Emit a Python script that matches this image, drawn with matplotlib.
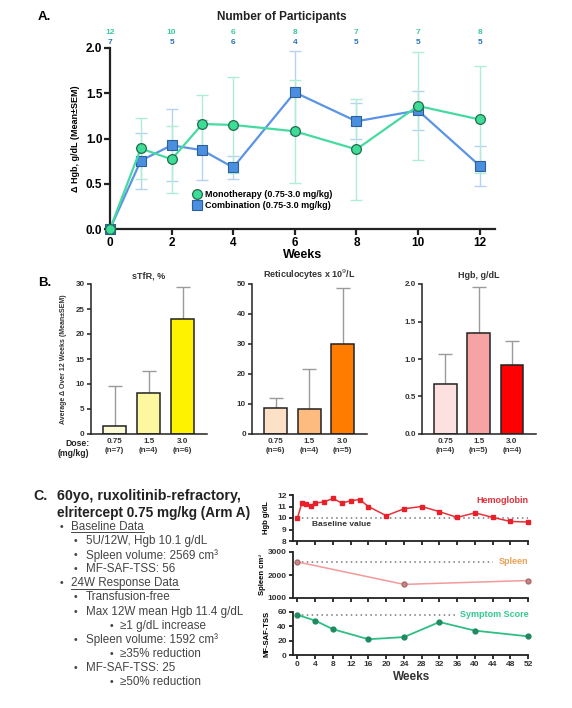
import numpy as np
import matplotlib
matplotlib.use("Agg")
import matplotlib.pyplot as plt
from matplotlib.lines import Line2D
import matplotlib.transforms as mtransforms

plt.rcParams['font.family'] = ['Liberation Sans', 'DejaVu Sans']

# ---- panel A data
weeks_a = [0, 1, 2, 3, 4, 6, 8, 10, 12]
mono_mean = [0, 0.89, 0.77, 1.16, 1.15, 1.08, 0.88, 1.36, 1.21]
mono_sem = [0, 0.34, 0.37, 0.32, 0.53, 0.57, 0.56, 0.60, 0.59]
combo_mean = [0, 0.755, 0.925, 0.87, 0.68, 1.51, 1.19, 1.31, 0.70]
combo_sem = [0, 0.31, 0.40, 0.33, 0.13, 0.46, 0.20, 0.22, 0.22]
n_weeks = [0, 2, 4, 6, 8, 10, 12]
n_mono = [12, 10, 6, 8, 7, 7, 8]
n_combo = [7, 5, 6, 4, 5, 5, 5]

# ---- panel B data
doses = ['0.75', '1.5', '3.0']
stfr_n = [7, 4, 6]
stfr_mean = [1.6, 8.1, 23.0]
stfr_sem = [7.9, 4.4, 6.5]
retic_n = [6, 4, 5]
retic_mean = [8.7, 8.3, 30.0]
retic_sem = [3.3, 13.4, 18.8]
hgb_n = [4, 5, 4]
hgb_mean = [0.66, 1.35, 0.92]
hgb_sem = [0.41, 0.61, 0.32]

# ---- panel C data
hgb_weeks = [0, 1, 2, 3, 4, 6, 8, 10, 12, 14, 16, 20, 24, 28, 32, 36, 40, 44, 48, 52]
hgb_vals = [10.0, 11.3, 11.2, 11.07, 11.3, 11.4, 11.7, 11.3, 11.5, 11.6, 11.0,
            10.2, 10.8, 11.0, 10.55, 10.05, 10.45, 10.05, 9.7, 9.65]
hgb_base = 10.0
spleen_weeks = [0, 24, 52]
spleen_vals = [2569, 1592, 1760]
spleen_base = 2569
tss_weeks = [0, 4, 8, 16, 24, 32, 40, 52]
tss_vals = [56, 48, 36, 22, 25, 46, 34, 26]
tss_base = 56

W, H = 572, 708
fig = plt.figure(figsize=(W / 100, H / 100), dpi=100)


def box(l, t, r, b):
    return [l / W, 1 - b / H, (r - l) / W, (b - t) / H]


def fx(px):
    return px / W


def fy(py):
    return 1 - py / H


def style_axis(ax, lw=1.5, tl=4, fs=8, bold=True):
    for s in ['top', 'right']:
        ax.spines[s].set_visible(False)
    for s in ['left', 'bottom']:
        ax.spines[s].set_linewidth(lw)
        ax.spines[s].set_color('#222222')
    ax.tick_params(direction='out', length=tl, width=lw, labelsize=fs, pad=1.5,
                   color='#222222')
    for lab in ax.get_xticklabels() + ax.get_yticklabels():
        lab.set_fontweight('bold' if bold else 'normal')


# ================= Panel A
axA = fig.add_axes(box(110, 48, 495, 229))
axA.errorbar(weeks_a, combo_mean, yerr=combo_sem, fmt='none', ecolor='#b4d2f2',
             elinewidth=1, capsize=4, capthick=1)
axA.errorbar(weeks_a, mono_mean, yerr=mono_sem, fmt='none', ecolor='#aeeed4',
             elinewidth=1, capsize=4, capthick=1)
axA.plot(weeks_a, combo_mean, '-s', color='#5b93e6', lw=1.6, ms=7, mfc='#4a8fe0',
         mec='#2d5f9a', mew=0.8, clip_on=False, zorder=4,
         label='Combination (0.75-3.0 mg/kg)')
axA.plot(weeks_a, mono_mean, '-o', color='#45dba0', lw=1.6, ms=7, mfc='#3ddc97',
         mec='#236b4c', mew=0.9, clip_on=False, zorder=5,
         label='Monotherapy (0.75-3.0 mg/kg)')
axA.set_xlim(0, 12.5)
axA.set_ylim(0, 2.0)
axA.set_xticks(range(0, 13, 2))
axA.set_yticks([0, 0.5, 1.0, 1.5, 2.0])
axA.set_yticklabels(['0.0', '0.5', '1.0', '1.5', '2.0'])
style_axis(axA, lw=1.6, tl=4, fs=8.5)
axA.set_xlabel('Weeks', fontsize=9, fontweight='bold', labelpad=0)
axA.set_ylabel('Δ Hgb, g/dL (Mean±SEM)', fontsize=6.5, fontweight='bold', labelpad=4)
h, l = axA.get_legend_handles_labels()
axA.legend(h[::-1], l[::-1], loc='upper left', bbox_to_anchor=(0.215, 0.215),
           frameon=False, handlelength=1.0, handletextpad=0.3,
           labelspacing=0.25, borderpad=0, borderaxespad=0,
           prop={'weight': 'bold', 'size': 6.5})
trA = mtransforms.blended_transform_factory(axA.transData, axA.transAxes)
for wk, a, b in zip(n_weeks, n_mono, n_combo):
    axA.text(wk, 1.083, str(a), transform=trA, ha='center', va='center',
             fontsize=6, fontweight='bold', color='#3cc8a0')
    axA.text(wk, 1.028, str(b), transform=trA, ha='center', va='center',
             fontsize=6, fontweight='bold', color='#2a74b8')
fig.text(fx(282), fy(17), 'Number of Participants', ha='center', va='center',
         fontsize=8.5, fontweight='bold', color='#222222')
fig.text(fx(38), fy(17), 'A.', ha='left', va='center', fontsize=9.5, fontweight='bold')

# ================= Panel B
b_panels = [
    (box(91, 284, 207, 434), 'sTfR, %', stfr_mean, stfr_sem, stfr_n,
     ['#fdfbd6', '#fdf8a0', '#fff200'], 30, [0, 5, 10, 15, 20, 25, 30], None),
    (box(252, 284, 367, 434), 'Reticulocytes x 10$^9$/L', retic_mean, retic_sem, retic_n,
     ['#fde1c6', '#fdbb80', '#ff7c00'], 50, [0, 10, 20, 30, 40, 50], None),
    (box(422, 284, 536, 434), 'Hgb, g/dL', hgb_mean, hgb_sem, hgb_n,
     ['#fde1e1', '#f5a3a3', '#ff0000'], 2.0, [0, 0.5, 1.0, 1.5, 2.0],
     ['0.0', '0.5', '1.0', '1.5', '2.0']),
]
xpos = np.arange(3)
for rect, title, mean, sem, ns, cols, ymax, yt, ytl in b_panels:
    ax = fig.add_axes(rect)
    ax.errorbar(xpos, mean, yerr=[[0] * 3, sem], fmt='none', ecolor='#9a9a9a',
                elinewidth=1, capsize=5, capthick=1, zorder=1)
    ax.bar(xpos, mean, width=0.68, color=cols, edgecolor='#222222', linewidth=1.1,
           zorder=2)
    ax.set_xlim(-0.7, 2.72)
    ax.set_ylim(0, ymax)
    ax.set_yticks(yt)
    if ytl:
        ax.set_yticklabels(ytl)
    ax.set_xticks(xpos)
    ax.set_xticklabels([f'{d}\n(n={n})' for d, n in zip(doses, ns)], linespacing=1.3)
    style_axis(ax, lw=1.1, tl=3, fs=5.8)
    ax.tick_params(axis='x', length=0, pad=3)
    for lab in ax.get_xticklabels() + ax.get_yticklabels():
        lab.set_color('#333333')
    ax.set_title(title, fontsize=6.5, fontweight='bold', color='#333333', pad=4)
    if title.startswith('sTfR'):
        ax.set_ylabel('Average Δ Over 12 Weeks (Mean±SEM)', fontsize=5,
                      fontweight='bold', color='#333333', labelpad=6)

fig.text(fx(77), fy(444), 'Dose:', ha='center', va='center', fontsize=6.2,
         fontweight='bold', color='#222222')
fig.text(fx(73), fy(454), '(mg/kg)', ha='center', va='center', fontsize=6.2,
         fontweight='bold', color='#222222')
fig.text(fx(38), fy(283), 'B.', ha='left', va='center', fontsize=9.5, fontweight='bold')

# ================= Panel C text
fig.text(fx(33), fy(496), 'C.', ha='left', va='center', fontsize=10.3, fontweight='bold',
         color='#222222')
fig.text(fx(57), fy(496), '60yo, ruxolitinib-refractory,', ha='left', va='center',
         fontsize=10.3, fontweight='bold', color='#222222')
fig.text(fx(57), fy(513), 'elritercept 0.75 mg/kg (Arm A)', ha='left', va='center',
         fontsize=9.8, fontweight='bold', color='#222222')

bullets = [
    (1, 'Baseline Data', True),
    (2, '5U/12W, Hgb 10.1 g/dL', False),
    (2, 'Spleen volume: 2569 cm³', False),
    (2, 'MF-SAF-TSS: 56', False),
    (1, '24W Response Data', True),
    (2, 'Transfusion-free', False),
    (2, 'Max 12W mean Hgb 11.4 g/dL', False),
    (3, '≥1 g/dL increase', False),
    (2, 'Spleen volume: 1592 cm³', False),
    (3, '≥35% reduction', False),
    (2, 'MF-SAF-TSS: 25', False),
    (3, '≥50% reduction', False),
]
bullet_x = {1: 60, 2: 74, 3: 110}
text_x = {1: 71, 2: 86, 3: 120}
under = []
y0 = 527
for i, (lvl, txt, ul) in enumerate(bullets):
    yy = y0 + i * 14.1
    fig.text(fx(bullet_x[lvl]), fy(yy), '•', ha='left', va='center', fontsize=7.5,
             color='#444444')
    t = fig.text(fx(text_x[lvl]), fy(yy), txt, ha='left', va='center', fontsize=8.4,
                 color='#444444')
    if ul:
        under.append(t)

# ================= Panel C charts
axH = fig.add_axes(box(293, 495, 530, 541))
axS = fig.add_axes(box(293, 552, 530, 598))
axT = fig.add_axes(box(293, 612, 530, 655))

axH.plot(hgb_weeks, hgb_vals, '-s', color='#e8323a', lw=1.1, ms=3, mfc='#e8202a',
         mec='#e8202a', clip_on=False, zorder=3)
axH.hlines(hgb_base, 0, 52, colors='#777777', linestyles=(0, (1, 2.2)), lw=1.1)
axH.set_ylim(8, 12)
axH.set_yticks([8, 9, 10, 11, 12])
axH.text(52, 11.55, 'Hemoglobin', ha='right', va='center', fontsize=6.5,
         fontweight='bold', color='#e0303a')
axH.text(3.2, 9.45, 'Baseline value', ha='left', va='center', fontsize=6,
         fontweight='bold', color='#333333')
axH.set_ylabel('Hgb g/dL', fontsize=5.5, fontweight='bold', labelpad=5)

axS.plot(spleen_weeks, spleen_vals, '-o', color='#f29a9a', lw=1.1, ms=3.5,
         mfc='#c98686', mec='#a86a6a', clip_on=False, zorder=3)
axS.hlines(spleen_base, 0, 44, colors='#777777', linestyles=(0, (1, 2.2)), lw=1.1)
axS.set_ylim(1000, 3000)
axS.set_yticks([1000, 2000, 3000])
axS.text(52, spleen_base, 'Spleen', ha='right', va='center', fontsize=6.5,
         fontweight='bold', color='#e8a256')
axS.set_ylabel('Spleen cm³', fontsize=5.5, fontweight='bold', labelpad=1)

axT.plot(tss_weeks, tss_vals, '-o', color='#2fbf86', lw=1.3, ms=3.5, mfc='#1f8a5f',
         mec='#1f8a5f', clip_on=False, zorder=3)
axT.hlines(tss_base, 0, 36, colors='#777777', linestyles=(0, (1, 2.2)), lw=1.1)
axT.set_ylim(0, 60)
axT.set_yticks([0, 20, 40, 60])
axT.text(52, tss_base, 'Symptom Score', ha='right', va='center', fontsize=6.5,
         fontweight='bold', color='#34c98e')
axT.set_ylabel('MF-SAF-TSS', fontsize=5.5, fontweight='bold', labelpad=5)
axT.set_xlabel('Weeks', fontsize=8.5, fontweight='bold', color='#333333', labelpad=2)

for ax in (axH, axS, axT):
    ax.set_xlim(-1, 52.4)
    ax.set_xticks(range(0, 53, 4))
    ax.spines['bottom'].set_bounds(-1, 52)
    style_axis(ax, lw=1.3, tl=3, fs=6)
    for lab in ax.get_xticklabels() + ax.get_yticklabels():
        lab.set_color('#333333')
axH.set_xticklabels([])
axS.set_xticklabels([])

# underline the bullet headings
fig.canvas.draw()
inv = fig.transFigure.inverted()
for t in under:
    bb = t.get_window_extent()
    (a0, b0), (a1, _) = inv.transform([[bb.x0, bb.y0], [bb.x1, bb.y0]])
    fig.add_artist(Line2D([a0, a1], [b0 + 0.0012, b0 + 0.0012], color='#444444',
                          lw=0.7))

fig.savefig('out.png', dpi=100)
